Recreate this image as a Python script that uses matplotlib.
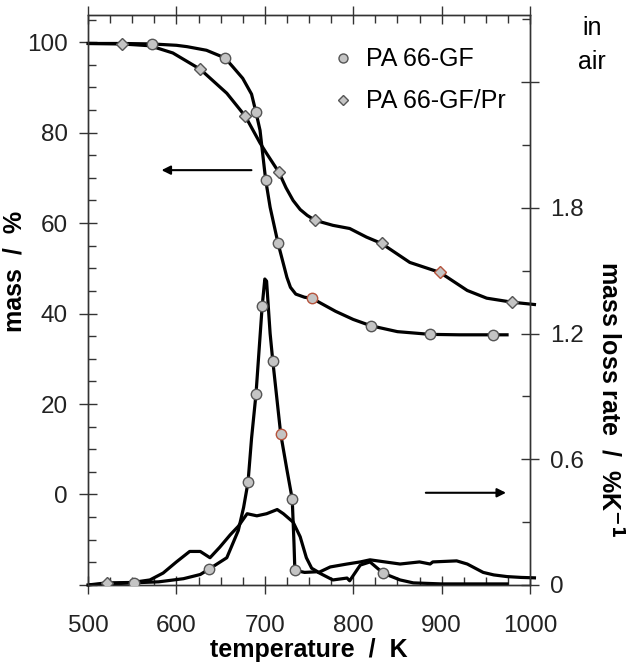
import matplotlib
matplotlib.use("Agg")
import matplotlib.pyplot as plt
from matplotlib.ticker import MultipleLocator, FixedLocator
from matplotlib.lines import Line2D

plt.rcParams['font.family'] = ['Liberation Sans', 'DejaVu Sans']

# --- mass curves (left axis, %) ---
t_mass_gf = [500, 540, 572, 600, 612, 634, 655, 664, 675, 685, 690, 694.6, 698, 701, 706,
             715, 721, 725, 729, 735, 745, 753, 780, 800, 820, 850, 887, 920, 958, 974]
m_gf = [99.7, 99.7, 99.6, 99.3, 99.0, 98.2, 96.5, 94.5, 92.0, 88.5, 84.5, 80.5, 74.6, 69.5, 63.5,
        55.5, 51.0, 48.0, 45.8, 44.3, 43.6, 43.4, 40.5, 38.7, 37.3, 36.0, 35.4, 35.3, 35.3, 35.3]

t_mass_pr = [500, 538, 570, 596, 627, 657, 678, 694.6, 702, 716, 724, 732, 740, 748, 757, 777,
             796, 815, 832, 864, 898, 929, 951, 980, 1005]
m_pr = [99.7, 99.6, 99.2, 97.6, 94.0, 88.7, 83.6, 77.7, 75.4, 71.2, 67.8, 65.0, 63.0, 61.7, 60.6,
        59.5, 58.8, 56.9, 55.5, 51.3, 49.1, 45.1, 43.4, 42.5, 42.0]

# markers on the mass curves
mk_gf_t = [572, 655, 690, 701, 715, 820, 887, 958]
mk_gf_m = [99.6, 96.5, 84.5, 69.5, 55.5, 37.3, 35.4, 35.3]
mk_gf_red_t = [753]
mk_gf_red_m = [43.4]
mk_pr_t = [538, 627, 678, 716, 757, 832, 980]
mk_pr_m = [99.6, 94.0, 83.6, 71.2, 60.6, 55.5, 42.5]
mk_pr_red_t = [898]
mk_pr_red_m = [49.1]

# --- mass loss rate curves (right axis, %/K) ---
t_rate_gf = [500, 550, 580, 608, 627, 637, 657, 670, 676, 681, 685, 690, 697, 700, 702, 706,
             709, 718, 725, 731, 733, 734, 745, 759, 777, 793, 796, 808, 819, 834, 853, 868,
             900, 940, 974]
r_gf = [0.0, 0.01, 0.015, 0.03, 0.05, 0.076, 0.13, 0.26, 0.37, 0.49, 0.70, 0.91, 1.33, 1.46,
        1.45, 1.20, 1.07, 0.72, 0.55, 0.41, 0.20, 0.07, 0.06, 0.063, 0.024, 0.033, 0.02, 0.095,
        0.11, 0.056, 0.024, 0.01, 0.005, 0.005, 0.005]

t_rate_pr = [500, 521, 550, 570, 585, 600, 615, 627, 638, 649, 661, 670, 680, 691, 702, 714,
             721, 732, 740, 747, 753, 761, 774, 793, 808, 819, 853, 875, 887, 890, 917, 929,
             947, 959, 974, 990, 1005]
r_pr = [0.0, 0.01, 0.012, 0.024, 0.057, 0.11, 0.16, 0.16, 0.13, 0.18, 0.24, 0.28, 0.34, 0.33,
        0.34, 0.36, 0.34, 0.30, 0.23, 0.13, 0.08, 0.06, 0.086, 0.10, 0.11, 0.12, 0.10, 0.11,
        0.10, 0.11, 0.115, 0.10, 0.06, 0.048, 0.04, 0.036, 0.034]

mk_rgf_t = [552, 637, 681, 690, 697, 709, 731, 734, 834]
mk_rgf_r = [0.01, 0.076, 0.49, 0.91, 1.33, 1.07, 0.41, 0.07, 0.056]
mk_rgf_red_t = [718]
mk_rgf_red_r = [0.72]
mk_rpr_t = [521]
mk_rpr_r = [0.01]

grey = '#c4c4c4'
edge = '#555555'
red_edge = '#b5533c'
lw = 2.3

fig = plt.figure(figsize=(6.30, 6.69), dpi=100)
ax = fig.add_axes([0.1397, 0.1256, 0.7016, 0.852])
ax2 = ax.twinx()

# mass curves
ax.plot(t_mass_gf, m_gf, color='black', lw=lw, zorder=2)
ax.plot(t_mass_pr, m_pr, color='black', lw=lw, zorder=2, clip_on=False)
ax.plot(mk_gf_t, mk_gf_m, 'o', ms=7.5, mfc=grey, mec=edge, mew=1.0, zorder=3)
ax.plot(mk_gf_red_t, mk_gf_red_m, 'o', ms=7.5, mfc=grey, mec=red_edge, mew=1.0, zorder=3)
ax.plot(mk_pr_t, mk_pr_m, 'D', ms=6.5, mfc=grey, mec=edge, mew=1.0, zorder=3)
ax.plot(mk_pr_red_t, mk_pr_red_m, 'D', ms=6.5, mfc=grey, mec=red_edge, mew=1.0, zorder=3)

# rate curves
ax2.plot(t_rate_gf, r_gf, color='black', lw=lw, zorder=2)
ax2.plot(t_rate_pr, r_pr, color='black', lw=lw, zorder=2, clip_on=False)
ax2.plot(mk_rgf_t, mk_rgf_r, 'o', ms=7.5, mfc=grey, mec=edge, mew=1.0, zorder=3)
ax2.plot(mk_rgf_red_t, mk_rgf_red_r, 'o', ms=7.5, mfc=grey, mec=red_edge, mew=1.0, zorder=3)
ax2.plot(mk_rpr_t, mk_rpr_r, 'D', ms=6.5, mfc=grey, mec=edge, mew=1.0, zorder=3)

ax.set_xlim(500, 1000)
ax.set_ylim(-20, 106)
ax2.set_ylim(0, 2.72)

fs = 17.5
ax.xaxis.set_major_locator(MultipleLocator(100))
ax.xaxis.set_minor_locator(MultipleLocator(25))
ax.yaxis.set_major_locator(FixedLocator([-20, 0, 20, 40, 60, 80, 100]))
ax.set_yticklabels(['', '0', '20', '40', '60', '80', '100'])
ax.yaxis.set_minor_locator(MultipleLocator(5))
ax2.yaxis.set_major_locator(FixedLocator([0, 0.6, 1.2, 1.8, 2.4]))
ax2.set_yticklabels(['0', '0.6', '1.2', '1.8', ''])
ax2.yaxis.set_minor_locator(MultipleLocator(0.3))

ax.tick_params(axis='x', which='major', direction='inout', length=13, width=1, pad=15,
               labelsize=fs, top=True, colors='#333333', labelcolor='#222222')
ax.tick_params(axis='x', which='minor', direction='in', length=6, width=1, top=True,
               colors='#333333')
ax.tick_params(axis='y', which='major', direction='inout', length=13, width=1, pad=8,
               labelsize=fs, colors='#333333', labelcolor='#222222')
ax.tick_params(axis='y', which='minor', direction='in', length=6, width=1, colors='#333333')
ax2.tick_params(axis='y', which='major', direction='inout', length=13, width=1, pad=8,
                labelsize=fs, colors='#333333', labelcolor='#222222')
ax2.tick_params(axis='y', which='minor', direction='in', length=6, width=1, colors='#333333')

for a in (ax, ax2):
    for s in a.spines.values():
        s.set_color('#333333')
        s.set_linewidth(1.0)

lfs = 18
ax.set_xlabel('temperature  /  K', fontsize=lfs, fontweight='bold', labelpad=1)
ax.set_ylabel('mass  /  %', fontsize=lfs, fontweight='bold')
ax.yaxis.set_label_coords(-0.14, 0.55)
ax2.set_ylabel('mass loss rate  /  %K$^{\\mathbf{-1}}$', fontsize=lfs, fontweight='bold',
               rotation=-90, va='bottom')
ax2.yaxis.set_label_coords(1.15, 0.325)

# arrows
ax.annotate('', xy=(580, 71.7), xytext=(688, 71.7),
            arrowprops=dict(arrowstyle='-|>', color='black', lw=1.5, mutation_scale=13))
ax2.annotate('', xy=(976, 0.44), xytext=(879, 0.44),
             arrowprops=dict(arrowstyle='-|>', color='black', lw=1.5, mutation_scale=13))

# legend
handles = [Line2D([], [], ls='', marker='o', ms=6.5, mfc=grey, mec=edge, mew=1.0),
           Line2D([], [], ls='', marker='D', ms=5.5, mfc=grey, mec=edge, mew=1.0)]
ax2.legend(handles, ['PA 66-GF', 'PA 66-GF/Pr'], loc='upper left', bbox_to_anchor=(0.548, 0.943),
           frameon=False, fontsize=lfs, handletextpad=0.45, labelspacing=0.72, handlelength=1.0,
           borderpad=0, borderaxespad=0)

fig.text(0.94, 0.976, 'in\nair', fontsize=lfs, ha='center', va='top', linespacing=1.5)

fig.savefig('out.png', dpi=100)
